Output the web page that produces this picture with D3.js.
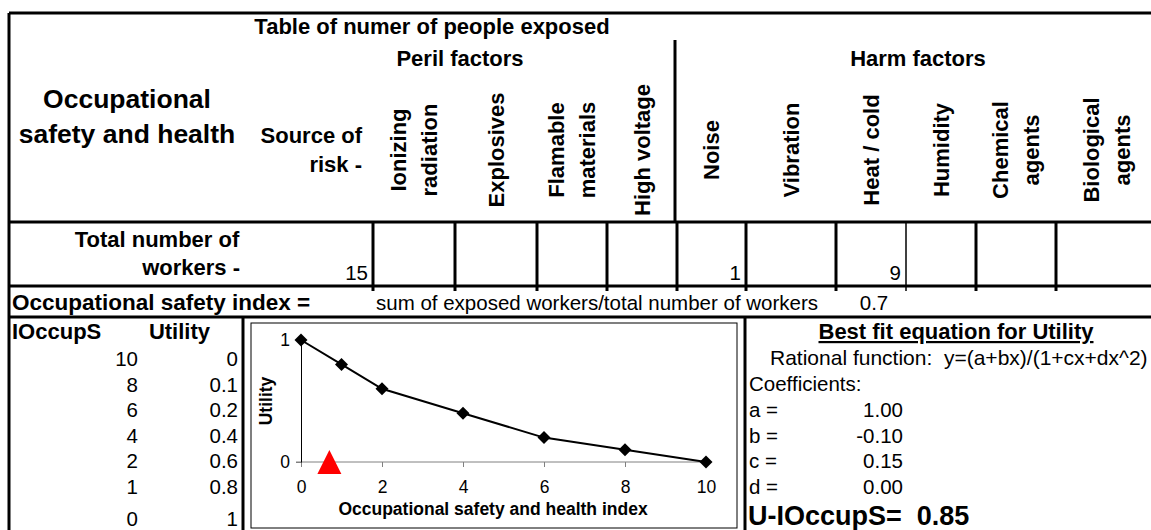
<!DOCTYPE html>
<html>
<head>
<meta charset="utf-8">
<script src="https://cdn.jsdelivr.net/npm/d3@7"></script>
<style>
  body { margin: 0; background: #fff; }
  svg text { font-family: "Liberation Sans", Arial, sans-serif; fill: #000; white-space: pre; }
</style>
</head>
<body>
<div id="sheet"></div>
<script>
const width = 1151;
const height = 530;

// Table data
const perilFactors = [["Ionizing", "radiation"], ["Explosives"], ["Flamable", "materials"], ["High voltage"]];
const harmFactors = [["Noise"], ["Vibration"], ["Heat / cold"], ["Humidity"], ["Chemical", "agents"], ["Biological", "agents"]];
const exposedWorkers = [null, null, null, null, 1, null, 9, null, null, null];
const totalWorkers = 15;
const safetyIndex = 0.7;

// Utility curve data
const iOccupS = [10, 8, 6, 4, 2, 1, 0];
const utility = [0, 0.1, 0.2, 0.4, 0.6, 0.8, 1];
const xTicks = [0, 2, 4, 6, 8, 10];
const yTicks = [0, 1];

// Fit coefficients
const coefNames = ["a", "b", "c", "d"];
const coefValues = [1.00, -0.10, 0.15, 0.00];
const uIOccupS = 0.85;

const svg = d3.select("#sheet")
    .append("svg")
    .attr("width", width)
    .attr("height", height);

// column edges of the factor cells
const colEdges = [373, 455, 537, 607, 677, 746, 836, 906, 976, 1056, 1158];
const factors = perilFactors.concat(harmFactors);

// helper for text
function label(x, y, str, opts = {}) {
    const t = svg.append("text")
        .attr("x", x)
        .attr("y", y)
        .attr("font-size", opts.size || 20.5)
        .attr("font-weight", opts.bold ? "bold" : "normal")
        .attr("text-anchor", opts.anchor || "start")
        .text(str);
    if (opts.underline) t.attr("text-decoration", "underline");
    return t;
}

// ---- grid lines ----
const lines = [
    [9, 13, 1151, 13, 3],
    [9, 13, 9, 530, 3],
    [675, 40, 675, 222, 3],
    [9, 222, 1151, 222, 3],
    [9, 286, 1151, 286, 3],
    [9, 317, 1151, 317, 3],
    [243, 317, 243, 530, 3],
    [745, 317, 745, 530, 3]
];
colEdges.slice(0, -1).forEach((x, i) => {
    const w = i === 7 ? 1.5 : 3;
    lines.push([x, 222, x, 291, w]);
});

svg.selectAll("line.grid")
    .data(lines)
    .enter()
    .append("line")
    .attr("class", "grid")
    .attr("x1", d => d[0]).attr("y1", d => d[1])
    .attr("x2", d => d[2]).attr("y2", d => d[3])
    .attr("stroke", "#000")
    .attr("stroke-width", d => d[4]);

// ---- header texts ----
label(432, 34, "Table of numer of people exposed", {bold: true, size: 22, anchor: "middle"});
label(460, 66, "Peril factors", {bold: true, size: 22, anchor: "middle"});
label(918, 66, "Harm factors", {bold: true, size: 22, anchor: "middle"});
label(127, 108, "Occupational", {bold: true, size: 26.5, anchor: "middle"});
label(127, 143, "safety and health", {bold: true, size: 26.5, anchor: "middle"});
label(362, 143, "Source of", {bold: true, size: 22, anchor: "end"});
label(362, 172, "risk -", {bold: true, size: 22, anchor: "end"});

// rotated factor headers
factors.forEach((lns, i) => {
    let cx = (colEdges[i] + colEdges[i + 1]) / 2;
    lns.forEach((s, j) => {
        const off = (j - (lns.length - 1) / 2) * 31;
        svg.append("text")
            .attr("transform", `translate(${cx + off},150) rotate(-90)`)
            .attr("font-size", 22)
            .attr("font-weight", "bold")
            .attr("text-anchor", "middle")
            .attr("dominant-baseline", "central")
            .text(s);
    });
});

// ---- total number row ----
label(157, 247, "Total number of", {bold: true, size: 22, anchor: "middle"});
label(240, 275, "workers -", {bold: true, size: 22, anchor: "end"});
label(368, 280, totalWorkers, {anchor: "end"});
exposedWorkers.forEach((v, i) => {
    if (v !== null) label(colEdges[i + 1] - 5, 280, v, {anchor: "end"});
});

// ---- index row ----
label(12, 310, "Occupational safety index =", {bold: true, size: 22.5});
label(376, 310, "sum of exposed workers/total number of workers", {});
label(874, 310, safetyIndex, {anchor: "middle"});

// ---- left table ----
label(12, 339, "IOccupS", {bold: true, size: 22});
label(210, 339, "Utility", {bold: true, size: 22, anchor: "end"});
const rowY = [366, 392, 417, 443, 468, 494, 526];
iOccupS.forEach((v, i) => {
    label(138, rowY[i], v, {anchor: "end"});
    label(238, rowY[i], utility[i], {anchor: "end"});
});

// ---- chart ----
svg.append("rect")
    .attr("x", 251).attr("y", 323)
    .attr("width", 486).attr("height", 205)
    .attr("fill", "#fff")
    .attr("stroke", "#000")
    .attr("stroke-width", 1);

const x = d3.scaleLinear().domain([0, 10]).range([301, 706]);
const y = d3.scaleLinear().domain([0, 1]).range([462, 340]);

const xAxis = svg.append("g")
    .attr("transform", `translate(0,${y(0)})`)
    .call(d3.axisBottom(x).tickValues(xTicks).tickSize(5).tickSizeOuter(0));
xAxis.select(".domain").attr("stroke", "#808080").attr("d", `M${x(0) - 5},0H${x(10)}`);
xAxis.selectAll(".tick line").attr("stroke", "#808080");
xAxis.selectAll(".tick text")
    .attr("font-size", 17.5)
    .attr("font-family", "Liberation Sans, Arial, sans-serif")
    .attr("y", 19).attr("dy", "0.71em");

const yAxis = svg.append("g")
    .attr("transform", `translate(${x(0)},0)`)
    .call(d3.axisLeft(y).tickValues(yTicks).tickFormat(d3.format("d")).tickSize(5).tickSizeOuter(0));
yAxis.select(".domain").attr("stroke", "#000");
yAxis.selectAll(".tick line").attr("stroke", "#808080");
yAxis.selectAll(".tick text")
    .attr("font-size", 17.5)
    .attr("font-family", "Liberation Sans, Arial, sans-serif")
    .attr("x", -11);

svg.append("text")
    .attr("transform", `translate(266,${(y(0) + y(1)) / 2}) rotate(-90)`)
    .attr("font-size", 17.5)
    .attr("font-weight", "bold")
    .attr("text-anchor", "middle")
    .attr("dominant-baseline", "central")
    .text("Utility");
label(493, 515, "Occupational safety and health index", {bold: true, size: 17.5, anchor: "middle"});

const pts = iOccupS.map((v, i) => ({x: v, y: utility[i]})).sort((a, b) => a.x - b.x);
svg.append("path")
    .datum(pts)
    .attr("fill", "none")
    .attr("stroke", "#000")
    .attr("stroke-width", 2)
    .attr("d", d3.line().x(d => x(d.x)).y(d => y(d.y)));

svg.selectAll("path.marker")
    .data(pts)
    .enter()
    .append("path")
    .attr("class", "marker")
    .attr("d", d3.symbol(d3.symbolSquare, 85))
    .attr("transform", d => `translate(${x(d.x)},${y(d.y)}) rotate(45)`)
    .attr("fill", "#000");

// current index marker
const tx = x(safetyIndex), ty = y(0);
svg.append("path")
    .attr("d", `M${tx},${ty - 12}L${tx + 12},${ty + 12}L${tx - 12},${ty + 12}Z`)
    .attr("fill", "#ff0000");

// ---- right panel ----
label(956, 339, "Best fit equation for Utility", {bold: true, size: 22, anchor: "middle", underline: true});
label(770, 365, "Rational function:  y=(a+bx)/(1+cx+dx^2)", {size: 21});
label(749, 391, "Coefficients:", {});
const coefY = [417, 443, 468, 494];
coefNames.forEach((n, i) => {
    label(749, coefY[i], n + " =", {});
    label(903, coefY[i], coefValues[i].toFixed(2), {anchor: "end"});
});
label(748, 525, "U-IOccupS=  " + uIOccupS, {bold: true, size: 27});
</script>
</body>
</html>
